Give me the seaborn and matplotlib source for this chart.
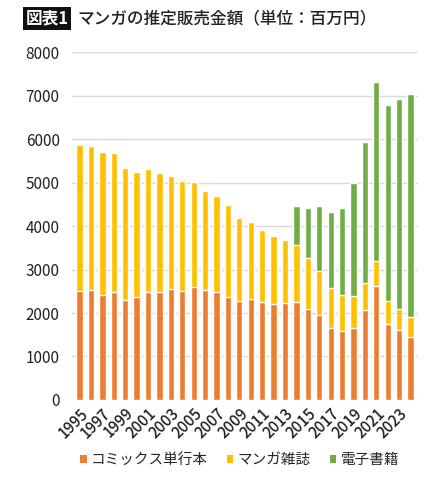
import pandas as pd
import matplotlib.pyplot as plt
import seaborn as sns
from matplotlib.patches import Patch

# 推定販売金額（百万円）
years = list(range(1995, 2025))
comics = [2507, 2535, 2421, 2473, 2302, 2372, 2480, 2482, 2549, 2498,
          2602, 2533, 2495, 2372, 2274, 2315, 2253, 2202, 2231, 2256,
          2102, 1947, 1666, 1588, 1665, 2069, 2621, 1747, 1602, 1456]
magazines = [3357, 3312, 3279, 3207, 3041, 2861, 2837, 2748, 2611, 2549,
             2421, 2277, 2204, 2111, 1913, 1776, 1650, 1564, 1438, 1313,
             1166, 1016, 917, 824, 722, 628, 574, 529, 498, 452]
digital = [0, 0, 0, 0, 0, 0, 0, 0, 0, 0,
           0, 0, 0, 0, 0, 0, 0, 0, 0, 887,
           1149, 1491, 1747, 2002, 2593, 3233, 4115, 4506, 4835, 5142]
series_names = ['コミックス単行本', 'マンガ雑誌', '電子書籍']
colors = ['#ED7D31', '#FFC000', '#70AD47']

df = pd.DataFrame({'year': [str(y) for y in years],
                   'comics': comics, 'magazines': magazines, 'digital': digital})
df['paper'] = df['comics'] + df['magazines']
df['total'] = df['paper'] + df['digital']

sns.set_style('white')
plt.rcParams['font.family'] = ['Noto Sans CJK JP', 'DejaVu Sans']

fig = plt.figure(figsize=(4.48, 4.79), dpi=100)
ax = fig.add_axes([0.161, 0.165, 0.772, 0.726])

order = df['year'].tolist()
sns.barplot(data=df, x='year', y='total', order=order, color=colors[2],
            width=0.55, saturation=1, ax=ax, zorder=3)
sns.barplot(data=df, x='year', y='paper', order=order, color=colors[1],
            width=0.55, saturation=1, ax=ax, zorder=3)
sns.barplot(data=df, x='year', y='comics', order=order, color=colors[0],
            width=0.55, saturation=1, ax=ax, zorder=3)

ax.set_ylim(0, 8000)
ax.set_xlim(-0.65, len(years) - 0.35)
ax.set_yticks(range(0, 8001, 1000))
ax.yaxis.grid(True, color='#d9d9d9', linewidth=1, zorder=0)
ax.set_axisbelow(True)
for s in ax.spines.values():
    s.set_visible(False)
ax.set_xlabel('')
ax.set_ylabel('')
ax.tick_params(axis='both', length=0, labelsize=11, colors='#222222')
ax.tick_params(axis='y', pad=9)

ax.set_xticks(range(0, len(years), 2))
ax.set_xticklabels([str(y) for y in years[::2]], rotation=45, ha='right',
                   rotation_mode='anchor', fontsize=11, fontweight='medium')

fig.text(0.058, 0.961, '図表1', fontsize=12, fontweight='bold', color='white',
         va='center', ha='left',
         bbox=dict(boxstyle='square,pad=0.15', facecolor='#111111', edgecolor='none'))
fig.text(0.172, 0.961, 'マンガの推定販売金額（単位：百万円）', fontsize=12,
         fontweight='medium', color='#222222', va='center', ha='left')

handles = [Patch(facecolor=c, edgecolor='none') for c in colors]
fig.legend(handles, series_names, loc='center', bbox_to_anchor=(0.535, 0.04),
           ncol=3, frameon=False, fontsize=10.5, handlelength=0.45, handleheight=0.45,
           handletextpad=0.3, columnspacing=1.3)

fig.savefig('out.png', dpi=100)
